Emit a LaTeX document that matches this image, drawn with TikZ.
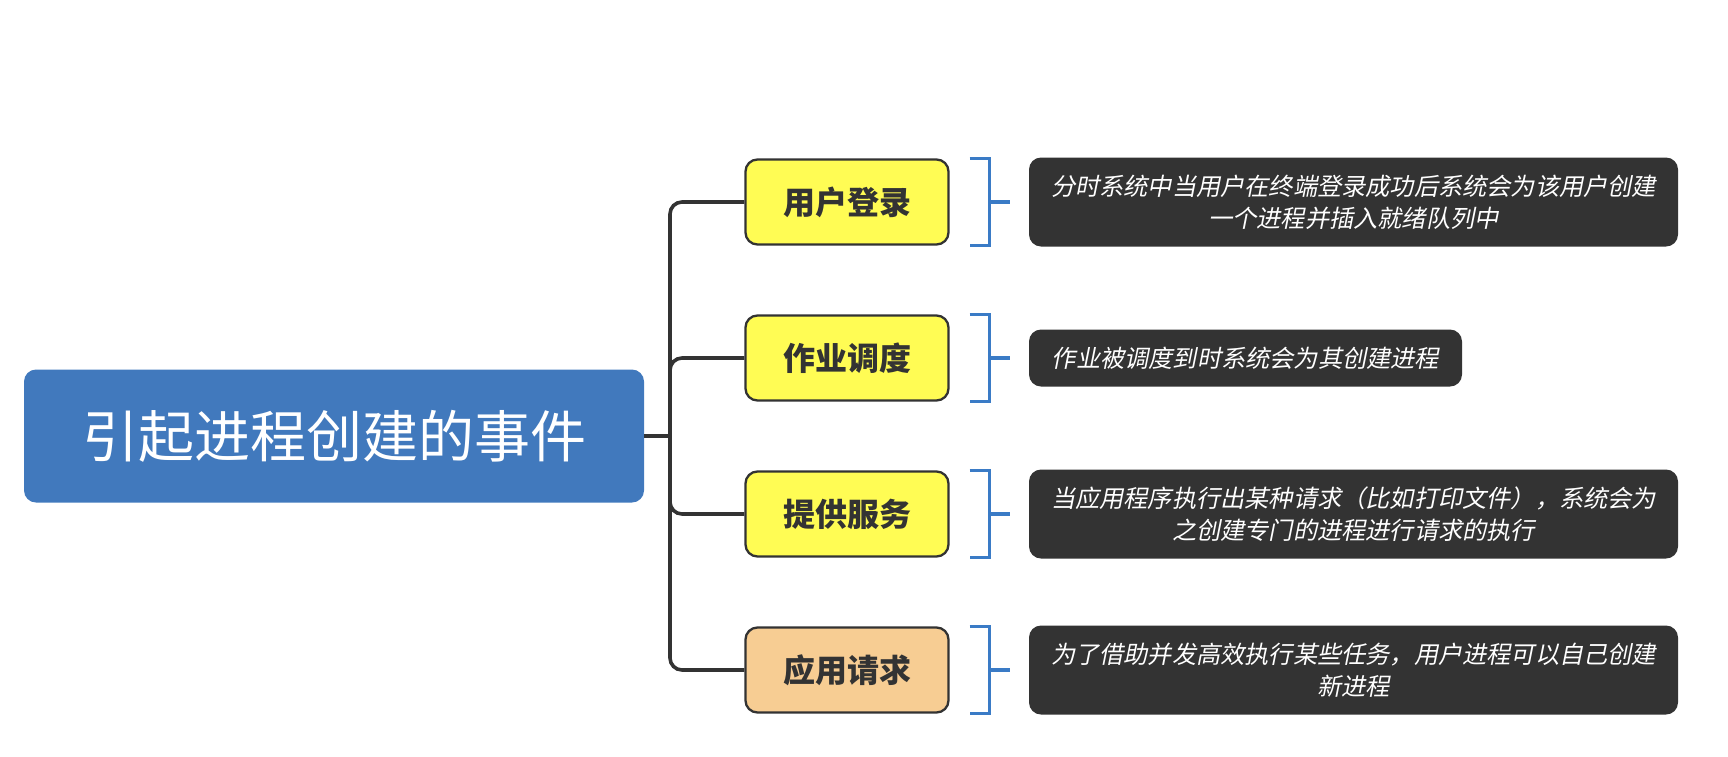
\documentclass[tikz,border=0pt]{standalone}
\usepackage{fontspec}
\newfontfamily\cjk{Noto Sans CJK SC}
\newfontfamily\cjkit{Noto Sans CJK SC}[FakeSlant=0.2]
\definecolor{rootblue}{HTML}{4179BD}
\definecolor{linegray}{HTML}{333333}
\definecolor{yel}{HTML}{FFFC54}
\definecolor{ora}{HTML}{F7CD93}
\definecolor{brblue}{HTML}{3A7BC6}
\definecolor{darkbox}{HTML}{333333}
\begin{document}
\begin{tikzpicture}[x=1pt,y=-1pt,
  rootbox/.style={fill=rootblue,rounded corners=12pt,minimum width=620pt,minimum height=133pt,inner sep=0pt,text=white,font=\cjk\fontsize{56}{64}\selectfont},
  childbox/.style={draw=linegray,line width=2.3pt,rounded corners=12pt,minimum width=203pt,minimum height=85pt,inner sep=0pt,text=linegray,font=\cjk\bfseries\fontsize{32}{36}\selectfont},
  descbox/.style={fill=darkbox,rounded corners=12pt,inner sep=0pt,text=white,align=center,font=\cjkit\fontsize{24.2}{32}\selectfont},
  trunk/.style={draw=linegray,line width=3.6pt,rounded corners=12pt},
  bracket/.style={draw=brblue,line width=3.6pt}]
\useasboundingbox (0,0) rectangle (1728,756);
\node[rootbox] (root) at (334,436) {引起进程创建的事件};
\node[childbox,fill=yel] (c1) at (847,202) {用户登录};
\node[childbox,fill=yel] (c2) at (847,358) {作业调度};
\node[childbox,fill=yel] (c3) at (847,514) {提供服务};
\node[childbox,fill=ora] (c4) at (847,670) {应用请求};
\node[descbox,minimum width=649pt,minimum height=89pt] (d1) at (1353.5,202) {分时系统中当用户在终端登录成功后系统会为该用户创建\\一个进程并插入就绪队列中};
\node[descbox,minimum width=433pt,minimum height=57pt] (d2) at (1245.5,358) {作业被调度到时系统会为其创建进程};
\node[descbox,minimum width=649pt,minimum height=89pt] (d3) at (1353.5,514) {当应用程序执行出某种请求（比如打印文件），系统会为\\之创建专门的进程进行请求的执行};
\node[descbox,minimum width=649pt,minimum height=89pt] (d4) at (1353.5,670) {为了借助并发高效执行某些任务，用户进程可以自己创建\\新进程};
\coordinate (j) at (670,436);
\draw[draw=linegray,line width=3.6pt] (root.east) -- (j);
\foreach \c in {c1,c2,c3,c4}{
  \draw[trunk] (j) |- (\c.west);
  \draw[bracket] ([xshift=20pt]\c.north east) -- ([xshift=40pt]\c.north east) -- ([xshift=40pt]\c.south east) -- ([xshift=20pt]\c.south east);
  \draw[bracket] ([xshift=40pt]\c.east) -- ([xshift=60pt]\c.east);
}
\end{tikzpicture}
\end{document}
